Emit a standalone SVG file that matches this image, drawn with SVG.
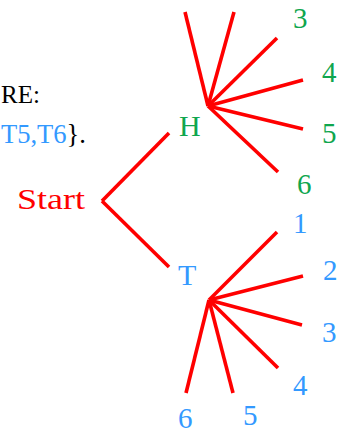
<svg xmlns="http://www.w3.org/2000/svg" width="338" height="434" viewBox="0 0 338 434">
<style>
text{font-family:'Liberation Serif','Times New Roman',serif;}
.g{fill:#0fa64e;font-size:29px;}
.b{fill:#3399ff;font-size:29px;}
.e{stroke:#ff0000;stroke-width:3.6;fill:none;stroke-linecap:butt;}
</style>
<rect width="338" height="434" fill="#fff"/>
<g id="caption" font-family="Liberation Serif, serif">
<text x="1" y="103" font-size="26" fill="#000" textLength="39" lengthAdjust="spacingAndGlyphs">RE:</text>
<text x="1" y="143" font-size="27" textLength="85" lengthAdjust="spacingAndGlyphs"><tspan fill="#3399ff">T5,T6</tspan><tspan fill="#000">}.</tspan></text>
</g>
<g id="connectors">
<line class="e" x1="102" y1="201" x2="169" y2="133"/>
<line class="e" x1="102" y1="201" x2="169" y2="267"/>
<line class="e" x1="208" y1="106" x2="185" y2="12"/>
<line class="e" x1="208" y1="106" x2="234" y2="12"/>
<line class="e" x1="208" y1="106" x2="277" y2="38"/>
<line class="e" x1="208" y1="106" x2="303" y2="80"/>
<line class="e" x1="208" y1="106" x2="303" y2="129"/>
<line class="e" x1="208" y1="106" x2="278" y2="172"/>
<line class="e" x1="209" y1="300" x2="277" y2="232"/>
<line class="e" x1="209" y1="300" x2="303" y2="276"/>
<line class="e" x1="209" y1="300" x2="302" y2="325"/>
<line class="e" x1="209" y1="300" x2="278" y2="368"/>
<line class="e" x1="209" y1="300" x2="233" y2="393"/>
<line class="e" x1="209" y1="300" x2="186" y2="393"/>
</g>
<g id="start"><text x="17" y="209" font-size="30" fill="#ff0000" textLength="68" lengthAdjust="spacingAndGlyphs">Start</text></g>
<g id="H"><text x="179" y="136" font-size="30" fill="#0fa64e">H</text></g>
<g id="T"><text x="178" y="285" font-size="30" fill="#3399ff">T</text></g>
<g id="H3"><text class="g" x="293" y="28">3</text></g>
<g id="H4"><text class="g" x="322" y="82">4</text></g>
<g id="H5"><text class="g" x="322" y="143">5</text></g>
<g id="H6"><text class="g" x="297" y="194">6</text></g>
<g id="T1"><text class="b" x="293" y="233">1</text></g>
<g id="T2"><text class="b" x="323" y="280">2</text></g>
<g id="T3"><text class="b" x="322" y="342">3</text></g>
<g id="T4"><text class="b" x="293" y="395">4</text></g>
<g id="T5"><text class="b" x="243" y="425">5</text></g>
<g id="T6"><text class="b" x="178" y="428">6</text></g>
</svg>
